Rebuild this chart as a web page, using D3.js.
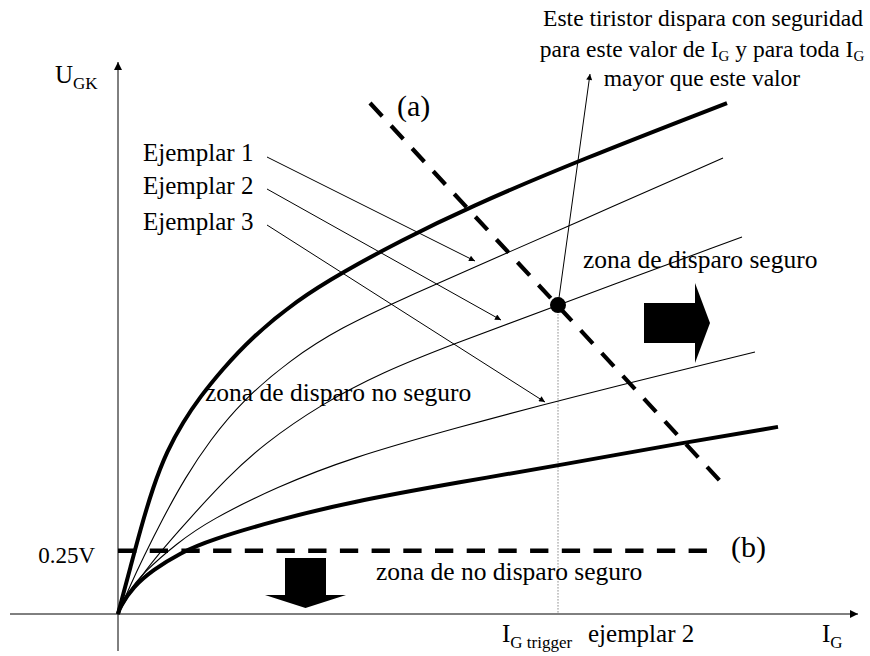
<!DOCTYPE html>
<html>
<head>
<meta charset="utf-8">
<script src="https://cdn.jsdelivr.net/npm/d3@7"></script>
<style>
  body { margin: 0; background: #fff; }
  svg text { font-family: "Liberation Serif", "Times New Roman", serif; fill: #000; }
</style>
</head>
<body>
<svg id="chart" width="870" height="656"></svg>
<script>
// Gate characteristic U_GK(I_G) of a thyristor type: I_G in arbitrary units, U_GK in volts.
// Upper and lower limit curves of the type.
const boundaryUpper = [[0,0],[0.5,0.075],[1.2,0.178],[2.2,0.328],[3.5,0.502],[4.9,0.644],[6.5,0.758],[8.2,0.857],[10.4,0.964],[13.2,1.086],[17.9,1.240],[22.5,1.351],[28.2,1.473],[34.9,1.603],[46.2,1.793],[60.9,2.018]];
const boundaryLower = [[0,0],[0.2,0.028],[1.5,0.107],[3.5,0.174],[6.2,0.241],[9.2,0.292],[15.9,0.371],[23.2,0.442],[34.2,0.521],[44.2,0.588],[56.9,0.679],[66.0,0.739]];

// Individual samples
const ejemplar1 = [[0,0],[1.2,0.111],[2.5,0.221],[4.5,0.379],[6.7,0.537],[9.2,0.687],[12.5,0.845],[17.2,1.003],[22.2,1.130],[28.9,1.252],[35.2,1.362],[45.2,1.535],[60.5,1.801]];
const ejemplar2 = [[0,0],[1.5,0.107],[4.2,0.245],[7.2,0.379],[10.9,0.537],[14.4,0.667],[20.5,0.833],[26.5,0.956],[33.2,1.062],[44.0,1.220],[62.4,1.489]];
const ejemplar3 = [[0,0],[1.0,0.087],[2.5,0.162],[5.9,0.280],[9.2,0.371],[15.9,0.502],[23.2,0.616],[34.2,0.739],[44.2,0.845],[63.7,1.035]];

const sampleNames = ["Ejemplar 1", "Ejemplar 2", "Ejemplar 3"];
// Points on each sample curve that the labels point at
const sampleTips = [[35.7,1.394],[38.3,1.161],[42.7,0.837]];

// (a) maximum gate power line, (b) minimum gate voltage that never triggers
const lineA = [[25.2,2.018],[60.5,0.513]];
const minGateVoltage = 0.25;
const lineBEnd = 59.4;

// Trigger point of sample 2
const trigger = [44.0, 1.220];

const svg = d3.select("#chart");
const x = d3.scaleLinear().domain([0, 74]).range([118, 858]);
const y = d3.scaleLinear().domain([0, 2.18]).range([614, 62]);

const curve = d3.line().x(d => x(d[0])).y(d => y(d[1])).curve(d3.curveBasis);
const straight = d3.line().x(d => x(d[0])).y(d => y(d[1]));

// Arrow heads
const defs = svg.append("defs");
function marker(id, w, h) {
  defs.append("marker")
    .attr("id", id).attr("viewBox", "0 0 10 10")
    .attr("refX", 10).attr("refY", 5)
    .attr("markerWidth", w).attr("markerHeight", h)
    .attr("markerUnits", "userSpaceOnUse").attr("orient", "auto")
    .append("path").attr("d", "M0,0L10,5L0,10Z").attr("fill", "#000");
}
marker("axisTip", 9, 8);
marker("tip", 9, 6);

// Axes
const x0 = x(0), y0 = y(0);
svg.append("line").attr("x1", x0).attr("y1", 651).attr("x2", x0).attr("y2", y.range()[1])
  .attr("stroke", "#000").attr("stroke-width", 1).attr("marker-end", "url(#axisTip)");
svg.append("line").attr("x1", 10).attr("y1", y0).attr("x2", x.range()[1]).attr("y2", y0)
  .attr("stroke", "#000").attr("stroke-width", 1).attr("marker-end", "url(#axisTip)");

// Vertical guide at the trigger current
svg.append("line")
  .attr("x1", x(trigger[0])).attr("x2", x(trigger[0]))
  .attr("y1", y(trigger[1])).attr("y2", y0)
  .attr("stroke", "#888").attr("stroke-width", 1).attr("stroke-dasharray", "1.5,1.5");

// Characteristic curves
[[boundaryUpper, 4], [ejemplar1, 1.1], [ejemplar2, 1.1], [ejemplar3, 1.1], [boundaryLower, 4]]
  .forEach(([data, w]) => {
    svg.append("path").attr("d", curve(data))
      .attr("fill", "none").attr("stroke", "#000").attr("stroke-width", w);
  });

// Dashed limit lines
svg.append("path").attr("d", straight(lineA))
  .attr("fill", "none").attr("stroke", "#000").attr("stroke-width", 4.2)
  .attr("stroke-dasharray", "18,13");
svg.append("path").attr("d", straight([[0, minGateVoltage], [lineBEnd, minGateVoltage]]))
  .attr("fill", "none").attr("stroke", "#000").attr("stroke-width", 4.5)
  .attr("stroke-dasharray", "18.3,13.4");

// Trigger point and its annotation pointer
svg.append("line")
  .attr("x1", x(trigger[0])).attr("y1", y(trigger[1]))
  .attr("x2", 590).attr("y2", 74)
  .attr("stroke", "#000").attr("stroke-width", 1).attr("marker-end", "url(#tip)");
svg.append("circle").attr("cx", x(trigger[0])).attr("cy", y(trigger[1])).attr("r", 8).attr("fill", "#000");

// Sample labels with leaders
const labelBase = [161, 194, 230];
sampleNames.forEach((name, i) => {
  svg.append("text").attr("x", 143).attr("y", labelBase[i]).attr("font-size", 25).text(name);
  svg.append("line")
    .attr("x1", 267).attr("y1", labelBase[i] - 5 + (i === 0 ? 1 : 0))
    .attr("x2", x(sampleTips[i][0])).attr("y2", y(sampleTips[i][1]))
    .attr("stroke", "#000").attr("stroke-width", 1).attr("marker-end", "url(#tip)");
});

// Zone arrows
const rightArrow = [x(52.6), y(1.149)];
svg.append("path")
  .attr("d", `M${rightArrow[0]},${rightArrow[1]-20}h51v-20l15,40l-15,40v-20h-51z`)
  .attr("fill", "#000");
const downArrow = [x(18.75), y(0.221)];
svg.append("path")
  .attr("d", `M${downArrow[0]-20.5},${downArrow[1]}h41v37h20l-40.5,13l-40.5,-13h20z`)
  .attr("fill", "#000");

// Text helper: runs of [text, size, baselineShift]
function rich(xp, yp, runs, anchor) {
  const t = svg.append("text").attr("x", xp).attr("y", yp).attr("text-anchor", anchor || "start");
  let shift = 0;
  runs.forEach(([s, size, sh]) => {
    t.append("tspan").attr("font-size", size).attr("dy", (sh || 0) - shift).text(s);
    shift = sh || 0;
  });
  return t;
}

rich(55, 83, [["U", 25], ["GK", 17, 6]]);
rich(822, 642, [["I", 25], ["G", 17, 6]]);
rich(502, 642, [["I", 25], ["G trigger", 17, 6]]);
svg.append("text").attr("x", 588).attr("y", 642).attr("font-size", 25).text("ejemplar 2");
svg.append("text").attr("x", 95).attr("y", y(minGateVoltage) + 12).attr("font-size", 23)
  .attr("text-anchor", "end").text("0.25V");

svg.append("text").attr("x", 397).attr("y", 116).attr("font-size", 30).text("(a)");
svg.append("text").attr("x", 731).attr("y", 557).attr("font-size", 30).text("(b)");

svg.append("text").attr("x", 205).attr("y", 401).attr("font-size", 25.5).text("zona de disparo no seguro");
svg.append("text").attr("x", 583).attr("y", 268).attr("font-size", 25.5).text("zona de disparo seguro");
svg.append("text").attr("x", 376).attr("y", 580).attr("font-size", 25.5).text("zona de no disparo seguro");

rich(703, 26, [["Este tiristor dispara con seguridad", 23.5]], "middle");
rich(702, 57, [["para este valor de I", 23.5], ["G", 15, 4], [" y para toda I", 23.5, 0], ["G", 15, 4]], "middle");
rich(702, 86, [["mayor que este valor", 23.5]], "middle");
</script>
</body>
</html>
